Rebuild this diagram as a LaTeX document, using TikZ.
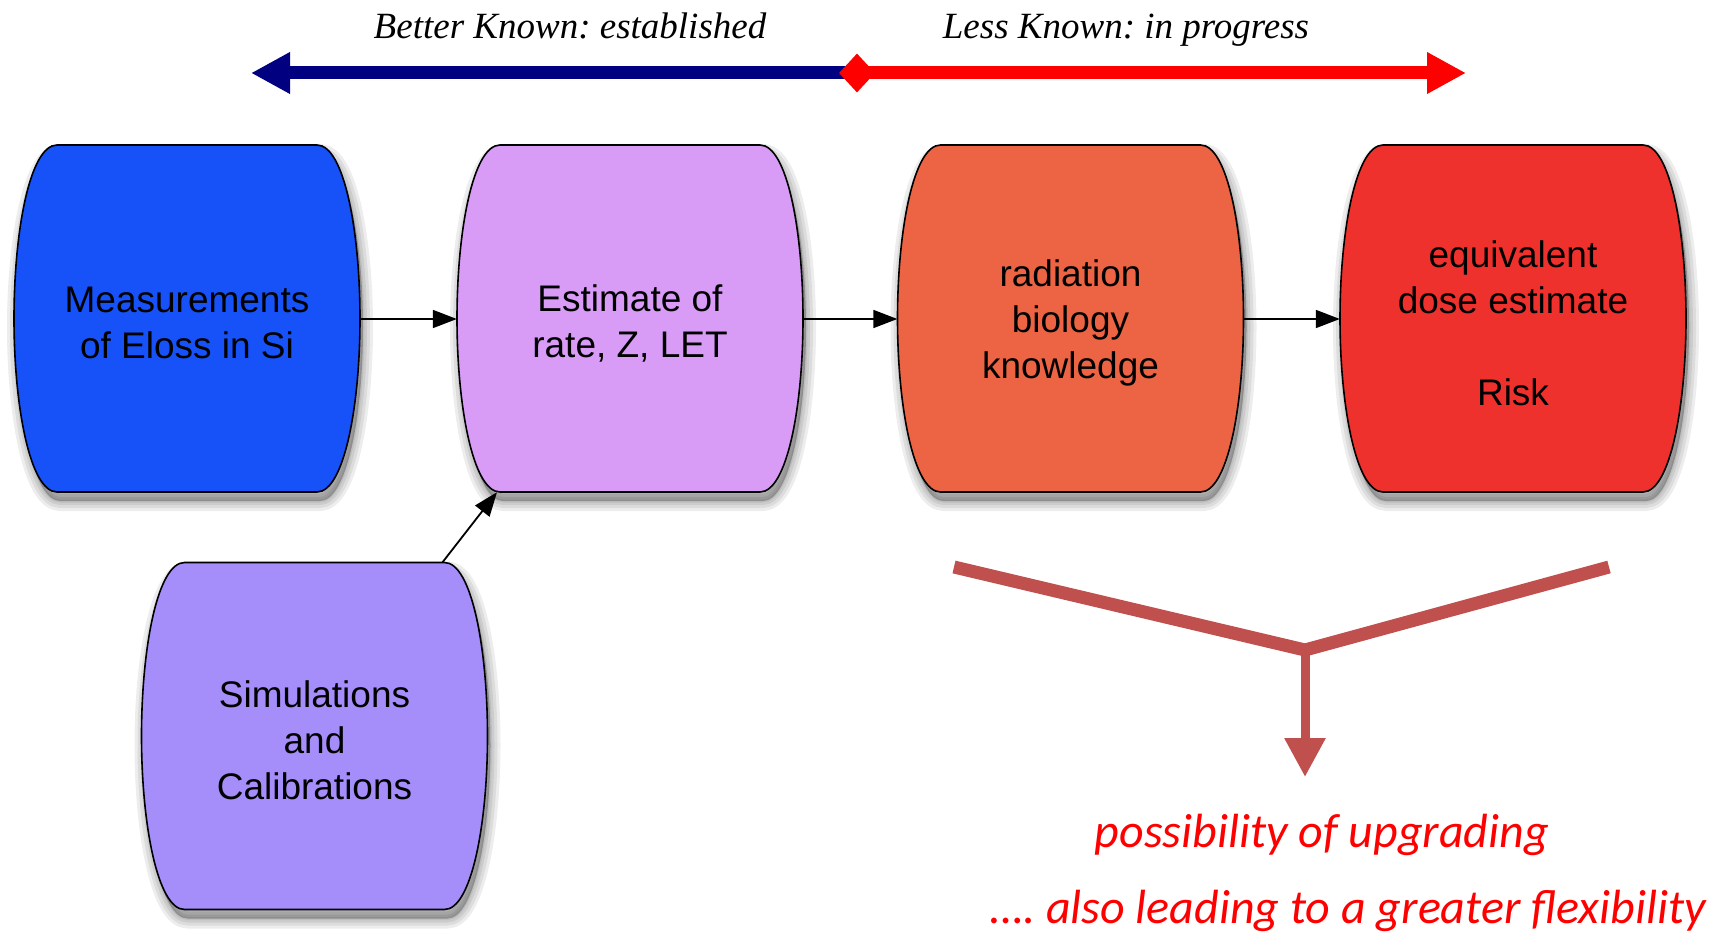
\documentclass[tikz,border=0pt]{standalone}
\usepackage{fontspec}
\setmainfont{Liberation Serif}
\newfontfamily\boxfont{Liberation Sans}
\newfontfamily\calibfont{Carlito}
\frenchspacing
\usetikzlibrary{arrows.meta,backgrounds,shapes.geometric}
\definecolor{cMeas}{HTML}{1652F8}
\definecolor{cEst}{HTML}{D89CF7}
\definecolor{cRad}{HTML}{EC6443}
\definecolor{cEqd}{HTML}{EE312D}
\definecolor{cSim}{HTML}{A68EFA}
\definecolor{cNavy}{HTML}{000080}
\definecolor{cY}{HTML}{C0504D}
\newcommand\barrelpath{(-130,-173.5) -- (130,-173.5) .. controls (157,-173.5) and (173,-88) .. (173,0) .. controls (173,88) and (157,173.5) .. (130,173.5) -- (-130,173.5) .. controls (-157,173.5) and (-173,88) .. (-173,0) .. controls (-173,-88) and (-157,-173.5) .. (-130,-173.5) -- cycle}
\newcommand\barrel[2]{%
  \begin{scope}[shift={(#1.center)},yshift=4.5pt]
    \foreach \w in {20,14,8,3}{%
      \filldraw[black,opacity=0.07,line width=\w pt,line join=round,shift={(3,9)}] \barrelpath;}
    \draw[line width=1.6pt,fill=#2] \barrelpath;
  \end{scope}}
\tikzset{
  cell/.style={minimum width=346pt,minimum height=347pt,inner sep=0pt,align=center,
    font=\boxfont\fontsize{37}{46}\selectfont},
  conn/.style={line width=1.8pt,-{Triangle[length=24pt,width=18pt]}},
  toplabel/.style={font=\itshape\fontsize{37}{42}\selectfont,anchor=base,inner sep=0pt},
  botlabel/.style={text=red,font=\calibfont\itshape\fontsize{48}{56}\selectfont,anchor=base,inner sep=0pt}
}
\begin{document}
\begin{tikzpicture}[x=1pt,y=-1pt]
\useasboundingbox (0,0) rectangle (1713,933);
% boxes (text centres sit slightly below the box centres)
\node[cell] (meas) at (187,323) {Measurements\\of Eloss in Si};
\node[cell] (est) at (630,323) {Estimate of\\rate, Z, LET};
\node[cell] (rad) at (1070.5,323) {radiation\\biology\\knowledge};
\node[cell] (eqd) at (1513,323) {equivalent\\dose estimate\\[46pt]Risk};
\node[cell] (sim) at (314.5,740.5) {Simulations\\and\\Calibrations};
\begin{pgfonlayer}{background}
\barrel{meas}{cMeas}
\barrel{est}{cEst}
\barrel{rad}{cRad}
\barrel{eqd}{cEqd}
\barrel{sim}{cSim}
\end{pgfonlayer}
% connectors
\draw[conn] ([yshift=4pt]meas.east) -- ([yshift=4pt]est.west);
\draw[conn] ([yshift=4pt]est.east) -- ([yshift=4pt]rad.west);
\draw[conn] ([yshift=4pt]rad.east) -- ([yshift=4pt]eqd.west);
\draw[conn] ([xshift=128pt,yshift=4.5pt]sim.north) -- ([xshift=-133pt,yshift=4.5pt]est.south);
% top double arrow
\coordinate (tl) at (251,73);
\coordinate (tm) at (857,73);
\coordinate (tr) at (1466,73);
\draw[red,line width=13pt,-{Triangle[length=39pt,width=39pt]}] (tm) -- (tr);
\draw[cNavy,line width=13pt,-{Triangle[length=39pt,width=39pt]}] (tm) -- (tl);
\node[diamond,fill=red,minimum width=36pt,minimum height=39pt,inner sep=0pt] (dia) at (tm) {};
\node[toplabel] (bk) at (570,39) {Better Known: established};
\node[toplabel] (lk) at (1126,39) {Less Known: in progress};
% Y arrow
\coordinate (yl) at (954,567);
\coordinate (yj) at (1305,650);
\coordinate (yr) at (1609,567);
\coordinate (yt) at (1305,777);
\draw[cY,line width=13pt,line join=miter] (yl) -- (yj) -- (yr);
\draw[cY,line width=9pt,-{Triangle[length=39pt,width=39pt]}] ([yshift=-4pt]yj) -- (yt);
\node[botlabel] (up) at (1322,847) {possibility of upgrading};
\node[botlabel] (fl) at (1348,923) {…. also leading to a greater flexibility};
\end{tikzpicture}
\end{document}
